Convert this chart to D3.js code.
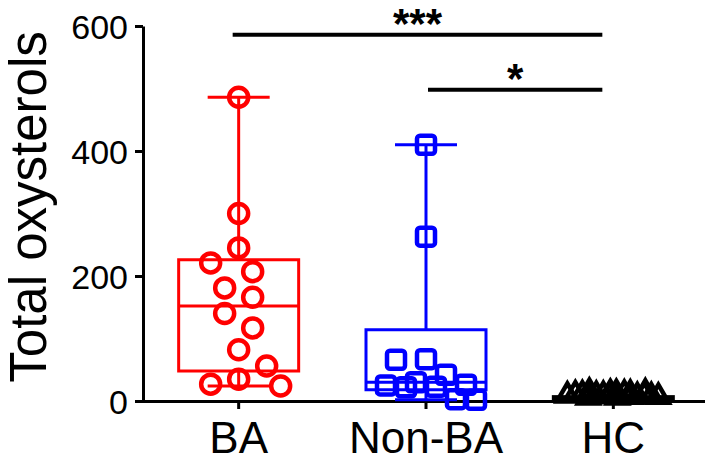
<!DOCTYPE html>
<html>
<head>
<meta charset="utf-8">
<script src="https://cdn.jsdelivr.net/npm/d3@7"></script>
<style>
  body { margin: 0; background: #fff; }
  svg { display: block; font-family: "Liberation Sans", Arial, sans-serif; }
</style>
</head>
<body>
<div id="chart"></div>
<script>
// groups and colours
const groups = ["BA", "Non-BA", "HC"];
const colors = ["#ff0000", "#0000ff", "#000000"];

// individual values
const baValues = [486, 300, 245, 221, 207, 181, 166, 140, 117, 82, 56, 35, 27, 24];
const nonBaValues = [410, 263, 67, 66, 42, 30, 26, 25, 23, 22, 3, 2];
const hcValues = [8, 5, 3, 6, 2, 9, 4, 7, 1, 5, 3, 6, 2, 8, 4, 10, 3, 5, 7, 1];

// box summaries: min, q1, median, q3, max
const boxMin = [24, 2, 1];
const boxQ1 = [48, 18, 3];
const boxMedian = [152, 30, 4.5];
const boxQ3 = [226, 114, 7];
const boxMax = [486, 410, 10];

// significance brackets
const sigFrom = ["BA", "Non-BA"];
const sigTo = ["HC", "HC"];
const sigLevel = [586, 498];
const sigText = ["***", "*"];

const yTicks = [0, 200, 400, 600];

const width = 714, height = 464;
const svg = d3.select("#chart").append("svg")
    .attr("width", width)
    .attr("height", height);

const x = d3.scaleBand().domain(groups).range([145, 707]).padding(0);
const cx = g => x(g) + x.bandwidth() / 2;
const y = d3.scaleLinear().domain([0, 600]).range([401, 26]);

// y axis
const yAxis = svg.append("g")
    .attr("transform", "translate(143,0)")
    .call(d3.axisLeft(y).tickValues(yTicks).tickSize(8).tickSizeOuter(0).tickPadding(7));
yAxis.select(".domain").attr("stroke-width", 3);
yAxis.selectAll(".tick line").attr("stroke-width", 3);
yAxis.selectAll(".tick text").attr("font-size", 34).attr("font-family", "Liberation Sans, Arial, sans-serif").attr("dy", "0.36em");

// x axis
const xAxis = svg.append("g")
    .attr("transform", "translate(0,401)")
    .call(d3.axisBottom(x).tickSize(8).tickSizeOuter(0).tickPadding(10));
xAxis.select(".domain").attr("stroke-width", 3).attr("d", "M141.5,0.5H705");
xAxis.selectAll(".tick line").attr("stroke-width", 3);
xAxis.selectAll(".tick text").attr("font-size", 44).attr("font-family", "Liberation Sans, Arial, sans-serif").attr("dy", "0.78em");

// y title
svg.append("text")
    .attr("transform", "translate(46,207) rotate(-90)")
    .attr("text-anchor", "middle")
    .attr("font-size", 51)
    .text("Total oxysterols");

// boxes
const boxHalf = 60, capHalf = 31;
groups.forEach((g, i) => {
  const c = cx(g), col = colors[i];
  const b = svg.append("g").attr("stroke", col).attr("stroke-width", 3).attr("fill", "none");
  b.append("rect")
    .attr("x", c - boxHalf).attr("width", boxHalf * 2)
    .attr("y", y(boxQ3[i])).attr("height", y(boxQ1[i]) - y(boxQ3[i]));
  b.append("line").attr("x1", c - boxHalf).attr("x2", c + boxHalf)
    .attr("y1", y(boxMedian[i])).attr("y2", y(boxMedian[i]));
  b.append("line").attr("x1", c).attr("x2", c)
    .attr("y1", y(boxQ3[i])).attr("y2", y(boxMax[i]));
  b.append("line").attr("x1", c).attr("x2", c)
    .attr("y1", y(boxQ1[i])).attr("y2", y(boxMin[i]));
  b.append("line").attr("x1", c - capHalf).attr("x2", c + capHalf)
    .attr("y1", y(boxMax[i])).attr("y2", y(boxMax[i]));
  b.append("line").attr("x1", c - capHalf).attr("x2", c + capHalf)
    .attr("y1", y(boxMin[i])).attr("y2", y(boxMin[i]));
});

// simple swarm: spread points sideways on a grid so markers do not pile up
function swarm(values, diam, maxOff, step) {
  const placed = [];
  const cands = d3.range(-maxOff, maxOff + 0.1, step).sort((a, b) => Math.abs(a) - Math.abs(b) || b - a);
  values.forEach((v, k) => {
    const py = y(v);
    let best = null, bestD = -1;
    const order = k % 2 ? cands.map(o => -o) : cands;
    for (const o of order) {
      let dmin = Infinity;
      placed.forEach(p => { dmin = Math.min(dmin, Math.hypot(p.o - o, p.py - py)); });
      if (dmin >= diam) { best = o; break; }
      if (dmin > bestD) { bestD = dmin; best = o; }
    }
    placed.push({ v, py, o: best });
  });
  return placed;
}

// BA circles
swarm(baValues, 25, 42, 14).forEach(p => {
  svg.append("circle")
    .attr("cx", cx("BA") + p.o).attr("cy", p.py).attr("r", 9.5)
    .attr("fill", "none").attr("stroke", colors[0]).attr("stroke-width", 4.5);
});

// Non-BA squares
swarm(nonBaValues, 22, 50, 10).forEach(p => {
  svg.append("rect")
    .attr("x", cx("Non-BA") + p.o - 9).attr("y", p.py - 9)
    .attr("width", 18).attr("height", 18).attr("rx", 3)
    .attr("fill", "none").attr("stroke", colors[1]).attr("stroke-width", 4.5);
});

// HC triangles
const tri = d3.symbol().type(d3.symbolTriangle).size(190);
swarm(hcValues, 20, 46, 7).forEach(p => {
  svg.append("path")
    .attr("d", tri())
    .attr("transform", `translate(${cx("HC") + p.o},${p.py - 3})`)
    .attr("fill", "none").attr("stroke", colors[2]).attr("stroke-width", 4.5);
});

// significance brackets
sigLevel.forEach((lv, i) => {
  const x1 = cx(sigFrom[i]) - (i === 0 ? 6 : -2), x2 = cx(sigTo[i]) - 11;
  svg.append("line")
    .attr("x1", x1).attr("x2", x2).attr("y1", y(lv)).attr("y2", y(lv))
    .attr("stroke", "#000").attr("stroke-width", 4);
  svg.append("text")
    .attr("x", (x1 + x2) / 2).attr("y", y(lv) + 3)
    .attr("text-anchor", "middle").attr("font-size", 42)
    .attr("font-weight", "bold")
    .text(sigText[i]);
});
</script>
</body>
</html>
